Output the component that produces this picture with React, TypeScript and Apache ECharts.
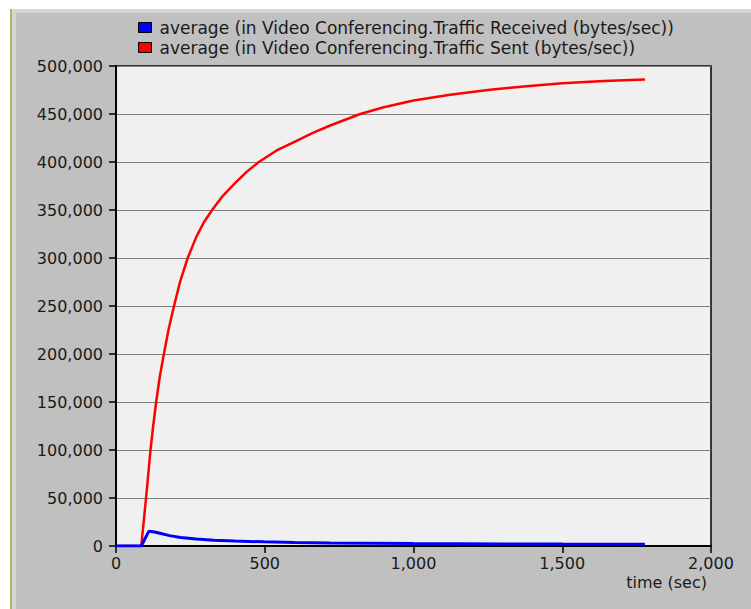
import React, { useEffect, useRef } from "react";
import * as echarts from "echarts";

// Simulation time (sec) and averaged traffic (bytes/sec)
const sentTime = [0, 85, 93, 101, 108, 116, 125, 135, 147, 161, 177, 195, 216, 241, 270, 295, 323, 360, 400, 440, 480, 540, 600, 660, 720, 821, 900, 1000, 1123, 1250, 1380, 1500, 1640, 1778];
const sentValues = [0, 0, 25000, 50000, 73000, 100000, 125000, 150000, 176000, 200000, 226000, 250000, 276000, 300000, 322000, 337000, 350000, 365000, 378000, 390000, 400000, 412000, 421000, 430000, 438000, 450000, 457000, 464000, 470000, 475000, 479000, 482000, 484500, 486000];

const recvTime = [0, 85, 110, 130, 148, 180, 217, 270, 329, 400, 497, 600, 720, 850, 1000, 1150, 1300, 1500, 1778];
const recvValues = [0, 0, 15300, 14500, 13200, 10800, 8800, 7200, 6100, 5200, 4300, 3700, 3200, 2900, 2600, 2400, 2200, 2000, 1900];

const legendNames = [
  "average (in Video Conferencing.Traffic Received (bytes/sec))",
  "average (in Video Conferencing.Traffic Sent (bytes/sec))",
];

const FONT = "DejaVu Sans";

function pairs(xs: number[], ys: number[]) {
  return xs.map((x, i) => [x, ys[i]]);
}

export default function App() {
  const ref = useRef<HTMLDivElement>(null);

  useEffect(() => {
    if (!ref.current) return;
    const chart = echarts.init(ref.current, undefined, { renderer: "svg" });
    chart.setOption({
      animation: false,
      backgroundColor: "#ffffff",
      textStyle: { fontFamily: FONT },
      graphic: [
        { type: "rect", left: 10, top: 9, shape: { width: 741, height: 600 }, style: { fill: "#c0c0c0" }, z: -10 },
        { type: "rect", left: 10, top: 9, shape: { width: 741, height: 4 }, style: { fill: "#d6d6d6" }, z: -9 },
        { type: "rect", left: 12, top: 9, shape: { width: 4, height: 600 }, style: { fill: "#d6d6d6" }, z: -9 },
        { type: "rect", left: 10, top: 9, shape: { width: 2, height: 600 }, style: { fill: "#b5b85a" }, z: -8 },
        {
          type: "text",
          right: 44,
          top: 574,
          style: { text: "time (sec)", font: `16px '${FONT}'`, fill: "#1a1a1a" },
        },
      ],
      legend: {
        orient: "vertical",
        left: 138,
        top: 19,
        padding: 0,
        itemWidth: 13,
        itemHeight: 10,
        itemGap: 3,
        icon: "rect",
        data: legendNames,
        textStyle: { fontSize: 17, lineHeight: 16, color: "#1a1a1a", fontFamily: FONT, padding: [0, 0, 0, 3] },
        itemStyle: { borderColor: "#000", borderWidth: 1 },
      },
      grid: {
        left: 116,
        top: 66,
        right: 40,
        bottom: 63,
        show: true,
        backgroundColor: "#f0f0f0",
        borderColor: "#000",
        borderWidth: 1.5,
      },
      xAxis: {
        type: "value",
        min: 0,
        max: 2000,
        interval: 500,
        axisLine: { show: true, lineStyle: { color: "#000", width: 2 } },
        axisTick: { show: true, length: 7, lineStyle: { color: "#000", width: 1.5 } },
        axisLabel: {
          fontSize: 16,
          color: "#1a1a1a",
          fontFamily: FONT,
          margin: 9,
          formatter: (v: number) => v.toLocaleString("en-US"),
        },
        splitLine: { show: false },
      },
      yAxis: {
        type: "value",
        min: 0,
        max: 500000,
        interval: 50000,
        axisLine: { show: true, lineStyle: { color: "#000", width: 2 } },
        axisTick: { show: true, length: 7, lineStyle: { color: "#000", width: 1.5 } },
        axisLabel: {
          fontSize: 16,
          color: "#1a1a1a",
          fontFamily: FONT,
          margin: 13,
          formatter: (v: number) => v.toLocaleString("en-US"),
        },
        splitLine: { show: true, lineStyle: { color: "#808080", width: 1.2 } },
      },
      series: [
        {
          name: legendNames[1],
          type: "line",
          data: pairs(sentTime, sentValues),
          showSymbol: false,
          itemStyle: { color: "#ff0000" },
          lineStyle: { color: "#ff0000", width: 2.5 },
        },
        {
          name: legendNames[0],
          type: "line",
          data: pairs(recvTime, recvValues),
          showSymbol: false,
          itemStyle: { color: "#0000ff" },
          lineStyle: { color: "#0000ff", width: 3 },
        },
      ],
    });
    return () => chart.dispose();
  }, []);

  return <div ref={ref} style={{ position: "fixed", left: 0, top: 0, width: 751, height: 609 }} />;
}
